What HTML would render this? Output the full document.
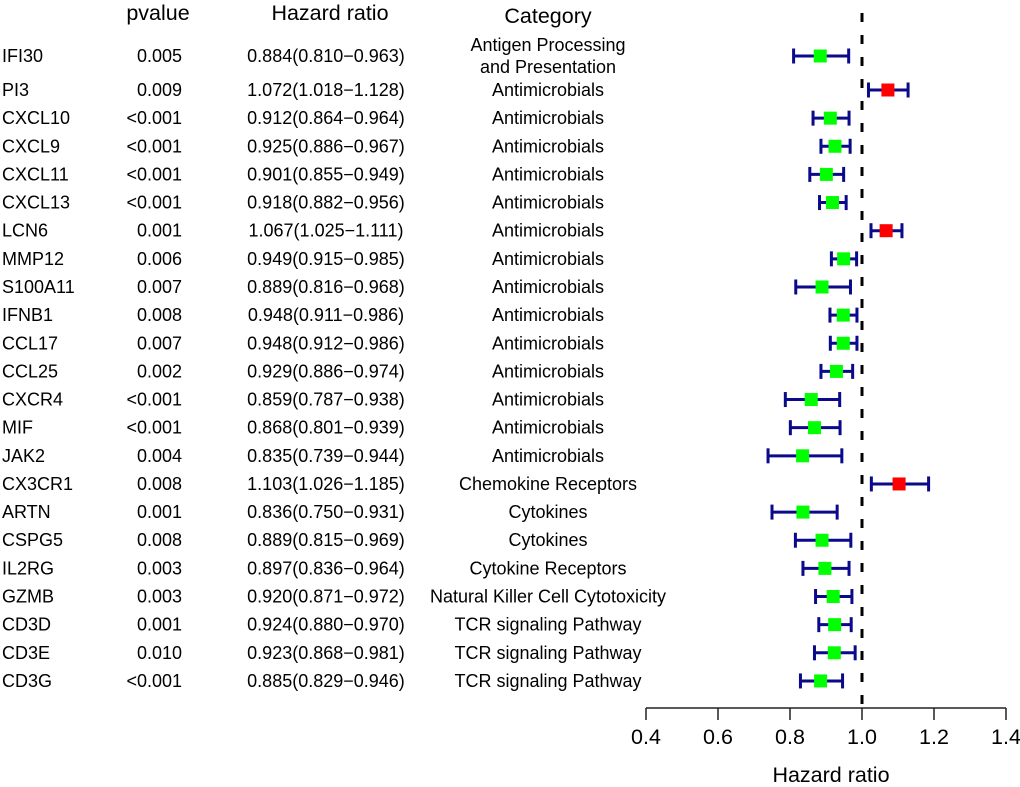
<!DOCTYPE html>
<html><head><meta charset="utf-8"><style>
body{margin:0;background:#fff}
svg{display:block;font-family:"Liberation Sans",Arial,sans-serif}
</style></head><body>
<svg id="c" width="1020" height="787"></svg>
<script>
const genes=["IFI30","PI3","CXCL10","CXCL9","CXCL11","CXCL13","LCN6","MMP12","S100A11","IFNB1","CCL17","CCL25","CXCR4","MIF","JAK2","CX3CR1","ARTN","CSPG5","IL2RG","GZMB","CD3D","CD3E","CD3G"];
const pvals=["0.005","0.009","<0.001","<0.001","<0.001","<0.001","0.001","0.006","0.007","0.008","0.007","0.002","<0.001","<0.001","0.004","0.008","0.001","0.008","0.003","0.003","0.001","0.010","<0.001"];
const hr=[0.884,1.072,0.912,0.925,0.901,0.918,1.067,0.949,0.889,0.948,0.948,0.929,0.859,0.868,0.835,1.103,0.836,0.889,0.897,0.920,0.924,0.923,0.885];
const lo=[0.810,1.018,0.864,0.886,0.855,0.882,1.025,0.915,0.816,0.911,0.912,0.886,0.787,0.801,0.739,1.026,0.750,0.815,0.836,0.871,0.880,0.868,0.829];
const hi=[0.963,1.128,0.964,0.967,0.949,0.956,1.111,0.985,0.968,0.986,0.986,0.974,0.938,0.939,0.944,1.185,0.931,0.969,0.964,0.972,0.970,0.981,0.946];
const cats=["Antigen Processing|and Presentation","Antimicrobials","Antimicrobials","Antimicrobials","Antimicrobials","Antimicrobials","Antimicrobials","Antimicrobials","Antimicrobials","Antimicrobials","Antimicrobials","Antimicrobials","Antimicrobials","Antimicrobials","Antimicrobials","Chemokine Receptors","Cytokines","Cytokines","Cytokine Receptors","Natural Killer Cell Cytotoxicity","TCR signaling Pathway","TCR signaling Pathway","TCR signaling Pathway"];
const ticks=[0.4,0.6,0.8,1.0,1.2,1.4];
const svg=document.getElementById('c');const NS="http://www.w3.org/2000/svg";
function X(v){return 646+(v-0.4)*360;}
function Y(i){return i===0?56:90+(i-1)*28.14;}
function mk(t,a,p){const e=document.createElementNS(NS,t);for(const k in a)e.setAttribute(k,a[k]);(p||svg).appendChild(e);return e;}
function txt(s,x,y,anchor,size){const e=mk('text',{x:x,y:y,'text-anchor':anchor,'font-size':size||18,'dominant-baseline':'central',fill:'#000'});e.textContent=s;return e;}
let h;
h=txt("pvalue",158,13,"middle",21.5);
h=txt("Hazard ratio",330,13,"middle",21.5);
h=txt("Category",548,16,"middle",21.5);
const ref=mk('line',{x1:X(1),x2:X(1),y1:13,y2:708,stroke:'#000','stroke-width':3,'stroke-dasharray':'9 13'});


genes.forEach((g,i)=>{
const y=Y(i);
let t=txt(g,2,y,"start");
t=txt(pvals[i],182,y,"end");
t=txt(hr[i].toFixed(3)+"("+lo[i].toFixed(3)+"\u2212"+hi[i].toFixed(3)+")",326,y,"middle");
const cl=cats[i].split('|');
if(cl.length>1){t=txt(cl[0],548,y-11,"middle");
t=txt(cl[1],548,y+11,"middle");}
else{t=txt(cl[0],548,y,"middle");}
const g2=mk('g',{});


mk('line',{x1:X(lo[i]),x2:X(hi[i]),y1:y,y2:y,stroke:'#0a0a8a','stroke-width':3},g2);
mk('line',{x1:X(lo[i]),x2:X(lo[i]),y1:y-7.5,y2:y+7.5,stroke:'#0a0a8a','stroke-width':3},g2);
mk('line',{x1:X(hi[i]),x2:X(hi[i]),y1:y-7.5,y2:y+7.5,stroke:'#0a0a8a','stroke-width':3},g2);
const r=mk('rect',{x:X(hr[i])-6.5,y:y-6.5,width:13,height:13,fill:hr[i]>1?'#ff0000':'#00ff00'},g2);


});
const ax=mk('g',{});


mk('line',{x1:X(0.4),x2:X(1.4),y1:708,y2:708,stroke:'#222','stroke-width':1.5},ax);
ticks.forEach(v=>{mk('line',{x1:X(v),x2:X(v),y1:708,y2:720,stroke:'#222','stroke-width':1.5},ax);
const t=txt(v.toFixed(1),X(v),737,"middle",21.5);});
h=txt("Hazard ratio",831,775,"middle",21.5);
</script>
</body></html>
